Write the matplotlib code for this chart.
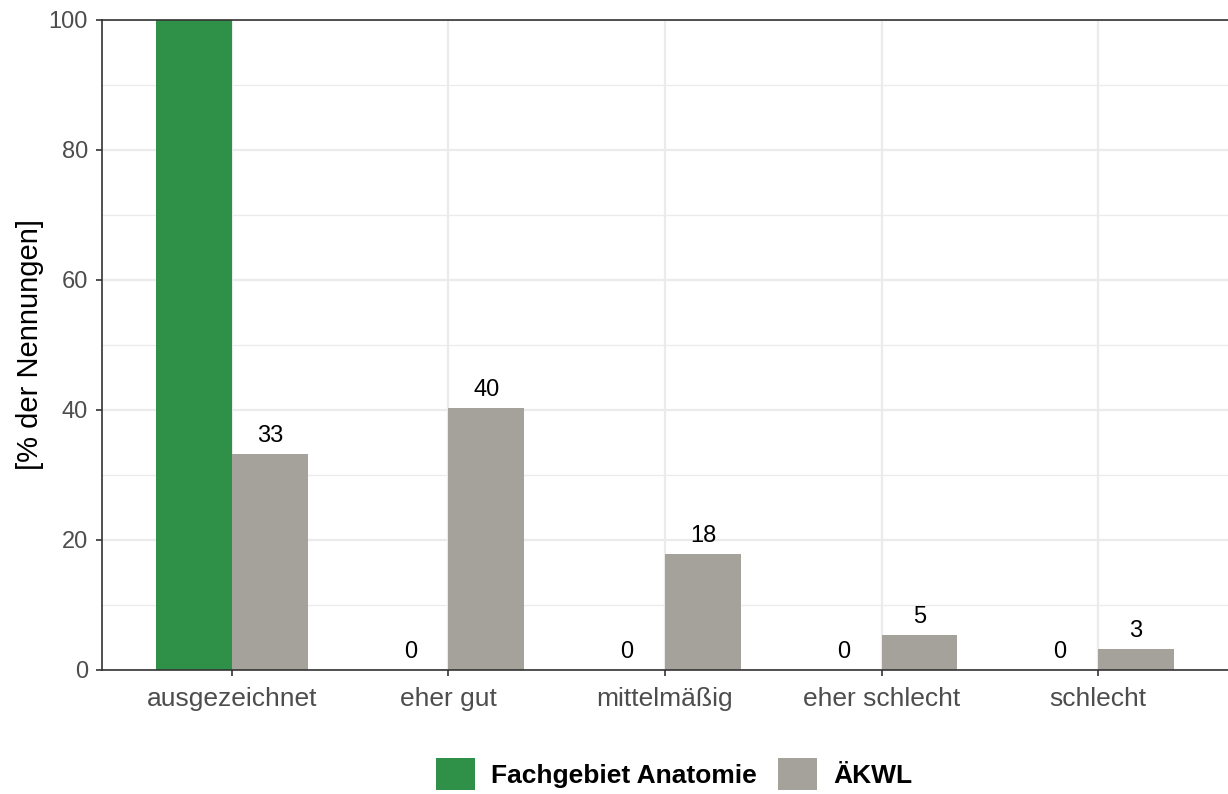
import numpy as np
import matplotlib.pyplot as plt
from matplotlib.patches import Patch

plt.rcParams['font.family'] = ['Liberation Sans', 'DejaVu Sans']

categories = ['ausgezeichnet', 'eher gut', 'mittelmäßig', 'eher schlecht', 'schlecht']
anatomie = [100, 0, 0, 0, 0]
aekwl = [33.2, 40.3, 17.8, 5.4, 3.2]
anatomie_labels = ['100', '0', '0', '0', '0']
aekwl_labels = ['33', '40', '18', '5', '3']
series_names = ['Fachgebiet Anatomie', 'ÄKWL']

green = '#2F9147'
grey = '#A5A29B'
ymax = 100

fig = plt.figure(figsize=(12.28, 7.94), dpi=100)
ax = fig.add_axes([102 / 1228, 124 / 794, 1 - 102 / 1228, 650 / 794])

x = np.arange(len(categories))
w = 0.35
ax.bar(x - w / 2, anatomie, width=w, color=green, zorder=2)
ax.bar(x + w / 2, aekwl, width=w, color=grey, zorder=2)

# value labels above the bars; labels above the panel top are cut off in the original
for xs, vals, labs in [(x - w / 2, anatomie, anatomie_labels), (x + w / 2, aekwl, aekwl_labels)]:
    for xi, v, lab in zip(xs, vals, labs):
        if v >= ymax:
            continue
        ax.annotate(lab, (xi, v), xytext=(0, 5), textcoords='offset points',
                    ha='center', va='bottom', fontsize=17, color='black')

ax.set_xlim(-0.6, len(categories) - 0.4)
ax.set_ylim(0, ymax)
ax.set_xticks(x)
ax.set_xticklabels(categories)
ax.set_yticks([0, 20, 40, 60, 80, 100])
ax.set_yticks([10, 30, 50, 70, 90], minor=True)

ax.grid(which='major', color='#EBEBEB', linewidth=1.6, zorder=0)
ax.grid(which='minor', axis='y', color='#EBEBEB', linewidth=0.9, zorder=0)
ax.set_axisbelow(True)

ax.tick_params(axis='both', which='major', length=4, width=1.2, color='#333333',
               labelcolor='#4D4D4D')
ax.tick_params(axis='y', which='major', labelsize=17, pad=6)
ax.tick_params(axis='x', which='major', labelsize=19, pad=8.5)
ax.tick_params(axis='y', which='minor', length=0)

for side in ['left', 'bottom', 'top']:
    ax.spines[side].set_color('#333333')
    ax.spines[side].set_linewidth(1.2)
ax.spines['right'].set_visible(False)

ax.set_ylabel('[% der Nennungen]', fontsize=21, color='black', labelpad=3.5)

handles = [Patch(facecolor=green, edgecolor='none'), Patch(facecolor=grey, edgecolor='none')]
fig.legend(handles, series_names, loc='center', ncol=2,
           bbox_to_anchor=(674 / 1228, 20 / 794),
           frameon=False, handlelength=1.5, handleheight=1.45,
           handletextpad=0.6, columnspacing=0.8,
           prop={'weight': 'bold', 'size': 19})

fig.savefig('out.png', dpi=100)
